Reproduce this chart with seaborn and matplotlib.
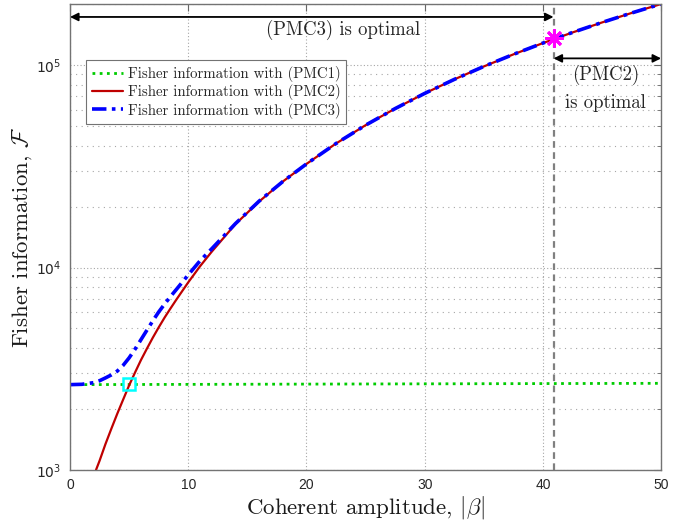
import matplotlib
matplotlib.use("Agg")
import matplotlib.pyplot as plt
import matplotlib.ticker as mticker
import seaborn as sns
import pandas as pd

# ---- data ----
pmc1_x = [0, 10, 20, 30, 40, 50]
pmc1_y = [2640, 2648, 2656, 2664, 2672, 2680]

pmc2_x = [2.2, 2.5, 3, 3.5, 4, 4.5, 5, 5.5, 6, 6.5, 7, 7.5, 8, 8.5, 9, 10, 11, 12,
          14, 16, 18, 20, 22.5, 25, 27.5, 30, 32.5, 35, 37.5, 40, 42.5, 45, 47.5, 50]
pmc2_y = [1000, 1110, 1343, 1600, 1897, 2230, 2618, 3030, 3490, 3970, 4500, 5060,
          5660, 6280, 6950, 8450, 10150, 12000, 16400, 21200, 26600, 32500, 41000,
          50500, 61000, 72500, 85000, 98500, 113000, 128500, 145000, 162500,
          181000, 200500]

pmc3_x = [0, 1, 2, 2.5, 3, 3.5, 4, 4.5, 5, 5.5, 6, 6.5, 7, 7.5, 8, 8.5, 9, 9.5, 10,
          11, 12, 13, 14, 16, 18, 20, 22.5, 25, 27.5, 30, 32.5, 35, 37.5, 40, 42.5,
          45, 47.5, 50]
pmc3_y = [2640, 2650, 2700, 2760, 2850, 2950, 3080, 3290, 3580, 3950, 4400, 4900,
          5450, 6030, 6600, 7190, 7800, 8470, 9200, 10800, 12400, 14300, 16500,
          21300, 26600, 32500, 41000, 50500, 61000, 72500, 85000, 98500, 113000,
          128500, 145000, 162500, 181000, 200500]

cross_x, cross_y = 5.0, 2660        # PMC1/PMC2 crossing (cyan square)
switch_x, switch_y = 40.9, 136500   # PMC3 -> PMC2 switch (magenta star)

x_ticks = [0, 10, 20, 30, 40, 50]
y_ticks = [1e3, 1e4, 1e5]
y_tick_labels = ["$10^{3}$", "$10^{4}$", "$10^{5}$"]

labels = ["Fisher information with (PMC1)",
          "Fisher information with (PMC2)",
          "Fisher information with (PMC3)"]

# ---- plotting ----
sns.set_style("white")
plt.rcParams["font.family"] = ["cmr10", "DejaVu Serif"]
plt.rcParams["mathtext.fontset"] = "cm"
plt.rcParams["axes.formatter.use_mathtext"] = True

fig = plt.figure(figsize=(6.93, 5.26), dpi=100)
ax = fig.add_axes([0.101, 0.1065, 0.853, 0.8855])

df1 = pd.DataFrame({"x": pmc1_x, "y": pmc1_y})
df2 = pd.DataFrame({"x": pmc2_x, "y": pmc2_y})
df3 = pd.DataFrame({"x": pmc3_x, "y": pmc3_y})

sns.lineplot(data=df1, x="x", y="y", ax=ax, color=(0.0, 0.8, 0.0),
             linestyle=(0, (1, 1.6)), linewidth=2.0, label=labels[0])
sns.lineplot(data=df2, x="x", y="y", ax=ax, color=(0.75, 0.0, 0.0),
             linestyle="-", linewidth=1.6, label=labels[1])
sns.lineplot(data=df3, x="x", y="y", ax=ax, color=(0.0, 0.0, 1.0),
             linestyle=(0, (4, 1.5, 1, 1.5)), linewidth=2.6, label=labels[2])

ax.set_yscale("log")
ax.set_xlim(0, 50)
ax.set_ylim(1e3, 2.0e5)

# vertical dashed switch line
ax.axvline(switch_x, color="0.5", linestyle=(0, (3, 2)), linewidth=1.6, zorder=1)

# markers
ax.plot([cross_x], [cross_y], marker="s", markersize=9, markerfacecolor="none",
        markeredgecolor=(0, 1, 1), markeredgewidth=1.8, linestyle="none", zorder=5)
ax.plot([switch_x], [switch_y], marker=(8, 2, 0), markersize=13,
        markeredgecolor=(1, 0, 1), markeredgewidth=2.0, color=(1, 0, 1),
        linestyle="none", zorder=6)

# arrows and annotation text
ax.annotate("", xy=(0, 1.73e5), xytext=(switch_x, 1.73e5),
            arrowprops=dict(arrowstyle="<|-|>", color="black", lw=1.3,
                            mutation_scale=12, shrinkA=0, shrinkB=0))
ax.annotate("", xy=(switch_x, 1.08e5), xytext=(50, 1.08e5),
            arrowprops=dict(arrowstyle="<|-|>", color="black", lw=1.3,
                            mutation_scale=12, shrinkA=0, shrinkB=0))
ax.text(23.1, 1.49e5, "(PMC3) is optimal", ha="center", va="center", fontsize=13.5,
        color="0.15")
ax.text(45.3, 8.9e4, "(PMC2)", ha="center", va="center", fontsize=13.5, color="0.15")
ax.text(45.3, 6.5e4, "is optimal", ha="center", va="center", fontsize=13.5,
        color="0.15")

# ticks
ax.set_xticks(x_ticks)
ax.set_xticklabels([str(t) for t in x_ticks], family="Liberation Sans", fontsize=10,
                   color="0.15")
ax.set_yticks(y_ticks)
ax.set_yticklabels(y_tick_labels, fontsize=10, color="0.15")
for t in ax.get_yticklabels():
    t.set_math_fontfamily("dejavusans")
ax.yaxis.set_minor_locator(mticker.LogLocator(base=10, subs=range(2, 10)))
ax.yaxis.set_minor_formatter(mticker.NullFormatter())
ax.tick_params(which="both", direction="in", top=True, right=True, color="0.4")
ax.tick_params(which="major", length=5, width=0.8, pad=6)
ax.tick_params(which="minor", length=3, width=0.6)

# grid
ax.grid(True, which="major", color="0.65", linestyle=(0, (1, 2)), linewidth=0.8)
ax.grid(True, which="minor", axis="y", color="0.65", linestyle=(0, (1, 4)),
        linewidth=0.8)
ax.set_axisbelow(True)

for s in ax.spines.values():
    s.set_color("0.45")
    s.set_linewidth(1.0)

# labels
ax.set_xlabel(r"Coherent amplitude, $|\beta|$", fontsize=16.5, color="0.1",
              labelpad=1)
ax.set_ylabel(r"Fisher information, $\mathcal{F}$", fontsize=16.5, color="0.1",
              labelpad=2)

# legend
leg = ax.legend(loc="upper left", bbox_to_anchor=(0.027, 0.88), fontsize=10.7,
                frameon=True, fancybox=False, framealpha=1, edgecolor="0.45",
                handlelength=2.1, handletextpad=0.3, borderpad=0.4,
                labelspacing=0.15, borderaxespad=0)
leg.get_frame().set_linewidth(0.8)

fig.savefig("out.png", dpi=100)
